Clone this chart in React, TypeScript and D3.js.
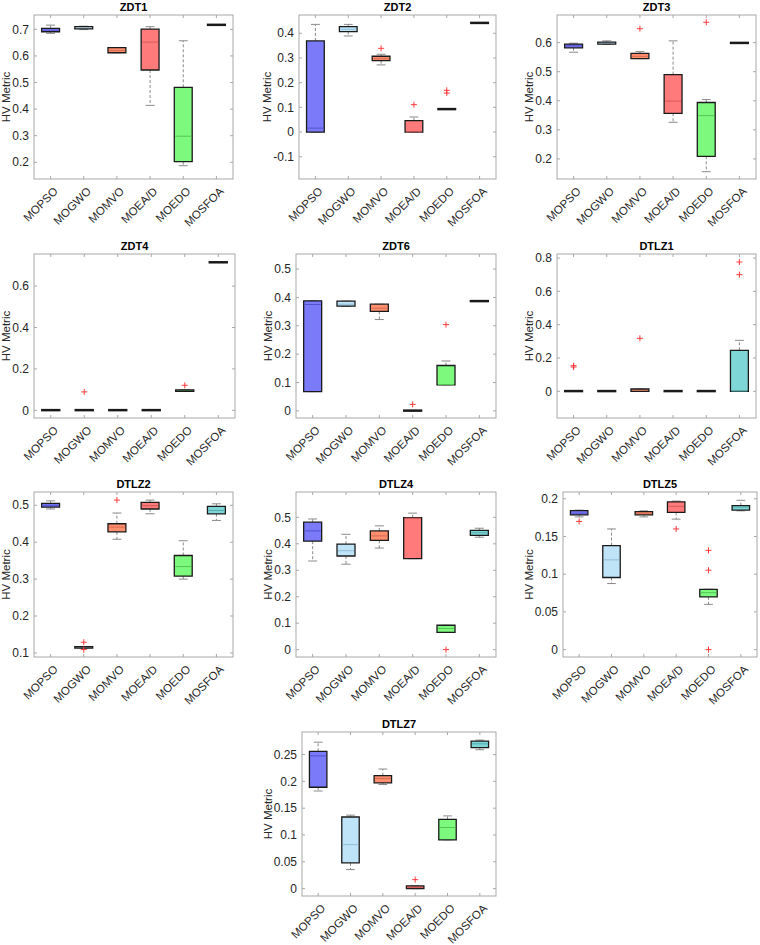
import React from "react";
import * as d3 from "d3";

const algorithms = ["MOPSO", "MOGWO", "MOMVO", "MOEA/D", "MOEDO", "MOSFOA"];
const problems = ["ZDT1", "ZDT2", "ZDT3", "ZDT4", "ZDT6", "DTLZ1", "DTLZ2", "DTLZ4", "DTLZ5", "DTLZ7"];

// each row: [lower whisker, q1, median, q3, upper whisker], one row per algorithm
const zdt1Stats = [
  [0.685, 0.691, 0.697, 0.704, 0.716],
  [0.699, 0.702, 0.707, 0.71, 0.712],
  [0.612, 0.612, 0.62, 0.631, 0.631],
  [0.414, 0.547, 0.652, 0.701, 0.71],
  [0.187, 0.202, 0.298, 0.482, 0.657],
  [0.716, 0.716, 0.717, 0.718, 0.718],
];
const zdt2Stats = [
  [0, 0, 0.016, 0.369, 0.436],
  [0.389, 0.407, 0.416, 0.427, 0.436],
  [0.272, 0.289, 0.297, 0.307, 0.315],
  [0, 0, 0.001, 0.046, 0.061],
  [0.092, 0.092, 0.093, 0.094, 0.094],
  [0.441, 0.441, 0.442, 0.443, 0.443],
];
const zdt3Stats = [
  [0.567, 0.582, 0.589, 0.595, 0.598],
  [0.594, 0.595, 0.599, 0.602, 0.606],
  [0.545, 0.545, 0.553, 0.563, 0.569],
  [0.326, 0.357, 0.399, 0.49, 0.606],
  [0.156, 0.209, 0.349, 0.394, 0.404],
  [0.598, 0.598, 0.599, 0.6, 0.6],
];
const zdt4Stats = [
  [0, 0, 0, 0.002, 0.002],
  [0, 0, 0, 0.002, 0.002],
  [0, 0, 0, 0.002, 0.002],
  [0, 0, 0, 0.002, 0.002],
  [0.092, 0.092, 0.095, 0.099, 0.099],
  [0.714, 0.714, 0.715, 0.716, 0.716],
];
const zdt6Stats = [
  [0.068, 0.068, 0.375, 0.388, 0.388],
  [0.368, 0.369, 0.376, 0.387, 0.387],
  [0.322, 0.351, 0.362, 0.376, 0.376],
  [0, 0, 0, 0.002, 0.002],
  [0.092, 0.092, 0.093, 0.16, 0.176],
  [0.386, 0.386, 0.387, 0.388, 0.388],
];
const dtlz1Stats = [
  [0, 0, 0, 0.003, 0.003],
  [0, 0, 0, 0.003, 0.003],
  [0, 0, 0.005, 0.014, 0.014],
  [0, 0, 0, 0.003, 0.003],
  [0, 0, 0, 0.003, 0.003],
  [0, 0, 0.002, 0.246, 0.306],
];
const dtlz2Stats = [
  [0.49, 0.495, 0.5, 0.505, 0.512],
  [0.113, 0.113, 0.115, 0.117, 0.117],
  [0.408, 0.428, 0.441, 0.45, 0.479],
  [0.477, 0.49, 0.499, 0.508, 0.514],
  [0.3, 0.308, 0.334, 0.364, 0.404],
  [0.459, 0.477, 0.486, 0.497, 0.504],
];
const dtlz4Stats = [
  [0.335, 0.41, 0.449, 0.482, 0.494],
  [0.323, 0.354, 0.374, 0.399, 0.436],
  [0.384, 0.413, 0.43, 0.449, 0.468],
  [0.344, 0.344, 0.497, 0.499, 0.516],
  [0.065, 0.065, 0.08, 0.092, 0.092],
  [0.425, 0.432, 0.442, 0.451, 0.459],
];
const dtlz5Stats = [
  [0.176, 0.1787, 0.181, 0.1844, 0.185],
  [0.0876, 0.0956, 0.119, 0.138, 0.16],
  [0.176, 0.1787, 0.181, 0.183, 0.184],
  [0.173, 0.182, 0.19, 0.196, 0.197],
  [0.06, 0.07, 0.0755, 0.08, 0.08],
  [0.184, 0.185, 0.189, 0.191, 0.198],
];
const dtlz7Stats = [
  [0.182, 0.189, 0.2475, 0.256, 0.273],
  [0.0355, 0.048, 0.082, 0.1336, 0.137],
  [0.194, 0.197, 0.205, 0.2106, 0.223],
  [0, 0, 0.002, 0.005, 0.005],
  [0.091, 0.091, 0.114, 0.129, 0.1356],
  [0.259, 0.263, 0.27, 0.275, 0.277],
];

// outliers, one list per algorithm
const zdt1Outliers = [[], [], [], [], [], []];
const zdt2Outliers = [[], [], [0.339], [0.111], [0.158, 0.169], []];
const zdt3Outliers = [[], [], [0.648], [], [0.67], []];
const zdt4Outliers = [[], [0.089], [], [], [0.121], []];
const zdt6Outliers = [[], [], [], [0.023], [0.304], []];
const dtlz1Outliers = [[0.146, 0.154], [], [0.318], [], [], [0.7, 0.776]];
const dtlz2Outliers = [[], [0.109, 0.129], [0.514], [], [], []];
const dtlz4Outliers = [[], [], [], [], [0], []];
const dtlz5Outliers = [[0.17], [], [], [0.16], [0, 0.1053, 0.1316], []];
const dtlz7Outliers = [[], [], [], [0.0168], [], []];

const zdt1Ticks = [0.2, 0.3, 0.4, 0.5, 0.6, 0.7];
const zdt2Ticks = [-0.1, 0, 0.1, 0.2, 0.3, 0.4];
const zdt3Ticks = [0.2, 0.3, 0.4, 0.5, 0.6];
const zdt4Ticks = [0, 0.2, 0.4, 0.6];
const zdt6Ticks = [0, 0.1, 0.2, 0.3, 0.4, 0.5];
const dtlz1Ticks = [0, 0.2, 0.4, 0.6, 0.8];
const dtlz2Ticks = [0.1, 0.2, 0.3, 0.4, 0.5];
const dtlz4Ticks = [0, 0.1, 0.2, 0.3, 0.4, 0.5];
const dtlz5Ticks = [0, 0.05, 0.1, 0.15, 0.2];
const dtlz7Ticks = [0, 0.05, 0.1, 0.15, 0.2, 0.25];

// y limits of each subplot
const yLimits = [
  [0.137, 0.754],
  [-0.19, 0.474],
  [0.131, 0.695],
  [-0.037, 0.755],
  [-0.025, 0.553],
  [-0.16, 0.824],
  [0.089, 0.536],
  [-0.028, 0.596],
  [-0.0098, 0.209],
  [-0.0137, 0.292],
];

const allStats = [zdt1Stats, zdt2Stats, zdt3Stats, zdt4Stats, zdt6Stats, dtlz1Stats, dtlz2Stats, dtlz4Stats, dtlz5Stats, dtlz7Stats];
const allOutliers = [zdt1Outliers, zdt2Outliers, zdt3Outliers, zdt4Outliers, zdt6Outliers, dtlz1Outliers, dtlz2Outliers, dtlz4Outliers, dtlz5Outliers, dtlz7Outliers];
const allTicks = [zdt1Ticks, zdt2Ticks, zdt3Ticks, zdt4Ticks, zdt6Ticks, dtlz1Ticks, dtlz2Ticks, dtlz4Ticks, dtlz5Ticks, dtlz7Ticks];

const boxFill = ["#7b7bfa", "#bfe4f8", "#ff8f6f", "#ff7b7b", "#7dfa7d", "#7fd6d6"];
const medianStroke = ["#5252cc", "#8fbcd4", "#d46a50", "#d45a5a", "#55c455", "#52adad"];

// axes rectangles in page pixels
const axesRects = [
  { l: 34, t: 15, r: 233, b: 179 },
  { l: 299, t: 15, r: 496, b: 179 },
  { l: 557, t: 15, r: 756, b: 179 },
  { l: 34, t: 254, r: 235, b: 418 },
  { l: 296, t: 254, r: 496, b: 418 },
  { l: 557, t: 254, r: 756, b: 418 },
  { l: 34, t: 492, r: 233, b: 657 },
  { l: 296, t: 492, r: 496, b: 657 },
  { l: 563, t: 492, r: 757, b: 657 },
  { l: 302, t: 732, r: 496, b: 896 },
];

const FONT = "'Liberation Sans', Arial, Helvetica, sans-serif";
const TEXT = "#262626";
const AXIS = "#a8a8a8";
const WHISKER = "#8a8a8a";
const OUTLIER = "#ff3b3b";

// rough Arial advance widths for tick labels
const labelWidth = (s: string, size: number) =>
  s.split("").reduce((w, c) => w + (c === "." ? 0.278 : c === "-" ? 0.333 : 0.556), 0) * size;

function Panel({ idx }: { idx: number }) {
  const rect = axesRects[idx];
  const stats = allStats[idx];
  const outliers = allOutliers[idx];
  const ticks = allTicks[idx];

  const x = d3.scaleBand<string>().domain(algorithms).range([rect.l, rect.r]);
  const y = d3.scaleLinear().domain(yLimits[idx]).range([rect.b, rect.t]);
  const boxW = x.step() * 0.54;
  const capW = boxW / 2;
  const maxTickW = d3.max(ticks, (t) => labelWidth(String(t), 12)) ?? 0;
  const yLabelX = rect.l - 5 - maxTickW - 2;

  return (
    <g>
      <rect x={rect.l} y={rect.t} width={rect.r - rect.l} height={rect.b - rect.t} fill="#fff" stroke={AXIS} strokeWidth={1} />
      {/* tick marks on all four sides */}
      {algorithms.map((a) => {
        const cx = x(a)! + x.bandwidth() / 2;
        return (
          <g key={a} stroke={AXIS}>
            <line x1={cx} x2={cx} y1={rect.b} y2={rect.b - 3} />
            <line x1={cx} x2={cx} y1={rect.t} y2={rect.t + 3} />
          </g>
        );
      })}
      {ticks.map((t) => (
        <g key={t}>
          <line x1={rect.l} x2={rect.l + 3} y1={y(t)} y2={y(t)} stroke={AXIS} />
          <line x1={rect.r} x2={rect.r - 3} y1={y(t)} y2={y(t)} stroke={AXIS} />
          <text x={rect.l - 5} y={y(t)} dy="0.35em" textAnchor="end" fontSize={12} fill={TEXT}>
            {String(t)}
          </text>
        </g>
      ))}

      {stats.map((s, i) => {
        const cx = x(algorithms[i])! + x.bandwidth() / 2;
        const [lo, q1, med, q3, hi] = s.map((v) => y(v));
        // keep near-constant boxes visible as a solid bar
        const mid = (q1 + q3) / 2;
        const half = Math.max((q1 - q3) / 2, 0.6);
        const top = mid - half;
        const bot = mid + half;
        const box = `M${cx - boxW / 2},${top}H${cx + boxW / 2}V${bot}H${cx - boxW / 2}Z`;
        return (
          <g key={i}>
            <line x1={cx} x2={cx} y1={q3} y2={hi} stroke={WHISKER} strokeDasharray="3,2" />
            <line x1={cx} x2={cx} y1={q1} y2={lo} stroke={WHISKER} strokeDasharray="3,2" />
            <line x1={cx - capW / 2} x2={cx + capW / 2} y1={hi} y2={hi} stroke={WHISKER} />
            <line x1={cx - capW / 2} x2={cx + capW / 2} y1={lo} y2={lo} stroke={WHISKER} />
            <path d={box} fill={boxFill[i]} stroke="#1a1a1a" strokeWidth={1.3} />
            {bot - top > 2.5 && (
              <line x1={cx - boxW / 2 + 1} x2={cx + boxW / 2 - 1} y1={med} y2={med} stroke={medianStroke[i]} strokeWidth={1} />
            )}
            {outliers[i].map((o, k) => (
              <path
                key={k}
                d={`M${cx - 3},${y(o)}H${cx + 3}M${cx},${y(o) - 3}V${y(o) + 3}`}
                stroke={OUTLIER}
                strokeWidth={1}
              />
            ))}
          </g>
        );
      })}

      {algorithms.map((a) => {
        const cx = x(a)! + x.bandwidth() / 2;
        return (
          <text
            key={a}
            transform={`translate(${cx + 8},${rect.b + 13}) rotate(-45)`}
            textAnchor="end"
            fontSize={11.5}
            fill={TEXT}
          >
            {a}
          </text>
        );
      })}

      <text
        transform={`translate(${yLabelX},${(rect.t + rect.b) / 2}) rotate(-90)`}
        textAnchor="middle"
        fontSize={11.5}
        fill={TEXT}
      >
        HV Metric
      </text>
      <text x={(rect.l + rect.r) / 2} y={rect.t - 4} textAnchor="middle" fontSize={11} fontWeight="bold" fill="#000">
        {problems[idx]}
      </text>
    </g>
  );
}

export default function App() {
  return (
    <svg
      width={760}
      height={945}
      style={{ position: "absolute", left: 0, top: 0, background: "#fff" }}
      fontFamily={FONT}
    >
      {problems.map((p, i) => (
        <Panel key={p} idx={i} />
      ))}
    </svg>
  );
}
